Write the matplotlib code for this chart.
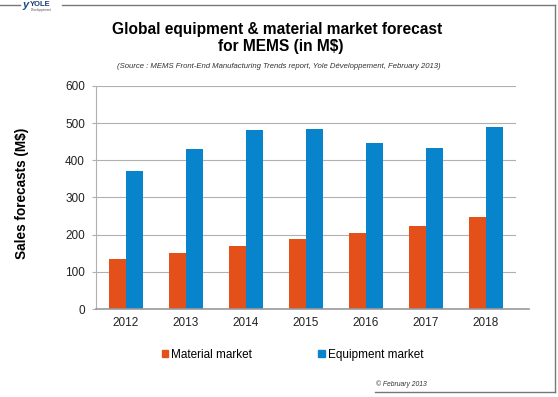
import numpy as np
import matplotlib.pyplot as plt
from matplotlib.lines import Line2D
from matplotlib.patches import Patch

# --- data ---
years = ["2012", "2013", "2014", "2015", "2016", "2017", "2018"]
material = [135, 150, 170, 187, 205, 224, 247]
equipment = [372, 431, 482, 483, 447, 432, 491]
y_ticks = [0, 100, 200, 300, 400, 500, 600]

ORANGE = "#E4501A"
BLUE = "#0884CC"
GRID = "#B0B0B0"

plt.rcParams['font.family'] = ['Liberation Sans', 'DejaVu Sans']

W, H = 558, 397
fig = plt.figure(figsize=(W / 100, H / 100), dpi=100)
fig.patch.set_facecolor("white")

# axes placement in pixels (left, top, right, bottom)
L, T, R, B = 96, 86, 516, 309
ax = fig.add_axes([L / W, 1 - B / H, (R - L) / W, (B - T) / H])

x = np.arange(len(years))
bw = 0.29
ax.bar(x - bw / 2, material, bw, color=ORANGE, label="Material market", zorder=3)
ax.bar(x + bw / 2, equipment, bw, color=BLUE, label="Equipment market", zorder=3)

ax.set_xlim(-0.5, len(years) - 0.5)
ax.set_ylim(0, 600)
ax.set_yticks(y_ticks)
ax.set_xticks(x)
ax.set_xticklabels(years)
ax.tick_params(axis="y", labelsize=8.5, length=3, color=GRID, pad=5, labelcolor="#222222")
ax.tick_params(axis="x", labelsize=8.5, length=0, pad=6, labelcolor="#222222")
ax.yaxis.grid(True, color=GRID, linewidth=0.8, zorder=0)
for s in ["top", "right", "bottom"]:
    ax.spines[s].set_visible(False)
ax.spines["left"].set_color(GRID)
# baseline goes a bit beyond the grid
ax.add_line(Line2D([0, 1.03], [0, 0], transform=ax.transAxes, color="#999999",
                   linewidth=1.2, clip_on=False, zorder=4))

ax.set_ylabel("Sales forecasts (M$)", fontsize=9.8, fontweight="bold")
ax.yaxis.set_label_coords((29 - L) / (R - L), 0.52)

# titles
fig.text(277 / W, 1 - 29.5 / H, "Global equipment & material market forecast",
         ha="center", va="center", fontsize=11.2, fontweight="bold")
fig.text(281 / W, 1 - 46 / H, "for MEMS (in M$)",
         ha="center", va="center", fontsize=11.2, fontweight="bold")
fig.text(279 / W, 1 - 66.5 / H,
         "(Source : MEMS Front-End Manufacturing Trends report, Yole Développement, February 2013)",
         ha="center", va="center", fontsize=5.6, style="italic", color="#333333")

# legend
handles = [Patch(color=ORANGE), Patch(color=BLUE)]
fig.legend(handles, ["Material market", "Equipment market"], loc="center",
           bbox_to_anchor=(0.524, 1 - 355 / H), ncol=2, frameon=False, fontsize=8.5,
           handlelength=0.55, handleheight=0.55, handletextpad=0.25, columnspacing=5.6)

# frame lines and footer
fcol = "#777777"
fig.add_artist(Line2D([0, 20 / W], [1 - 5 / H] * 2, color=fcol, linewidth=1))
fig.add_artist(Line2D([62 / W, 555 / W], [1 - 5 / H] * 2, color=fcol, linewidth=1))
fig.add_artist(Line2D([555 / W] * 2, [1 - 5 / H, 1 - 392 / H], color=fcol, linewidth=1))
fig.add_artist(Line2D([375 / W, 555 / W], [1 - 392 / H] * 2, color=fcol, linewidth=1))
fig.text(376 / W, 1 - 384 / H, "© February 2013", fontsize=4.9, style="italic",
         va="center", color="#333333")

# logo text
fig.text(22 / W, 1 - 5 / H, "y", fontsize=8, fontweight="bold", style="italic",
         color="#1A4A8A", va="center")
fig.text(30 / W, 1 - 4 / H, "YOLE", fontsize=5.5, fontweight="bold",
         color="#1A3A7A", va="center")
fig.text(31 / W, 1 - 10 / H, "Développement", fontsize=2.2, color="#555555", va="center")

fig.savefig("out.png", dpi=100)
